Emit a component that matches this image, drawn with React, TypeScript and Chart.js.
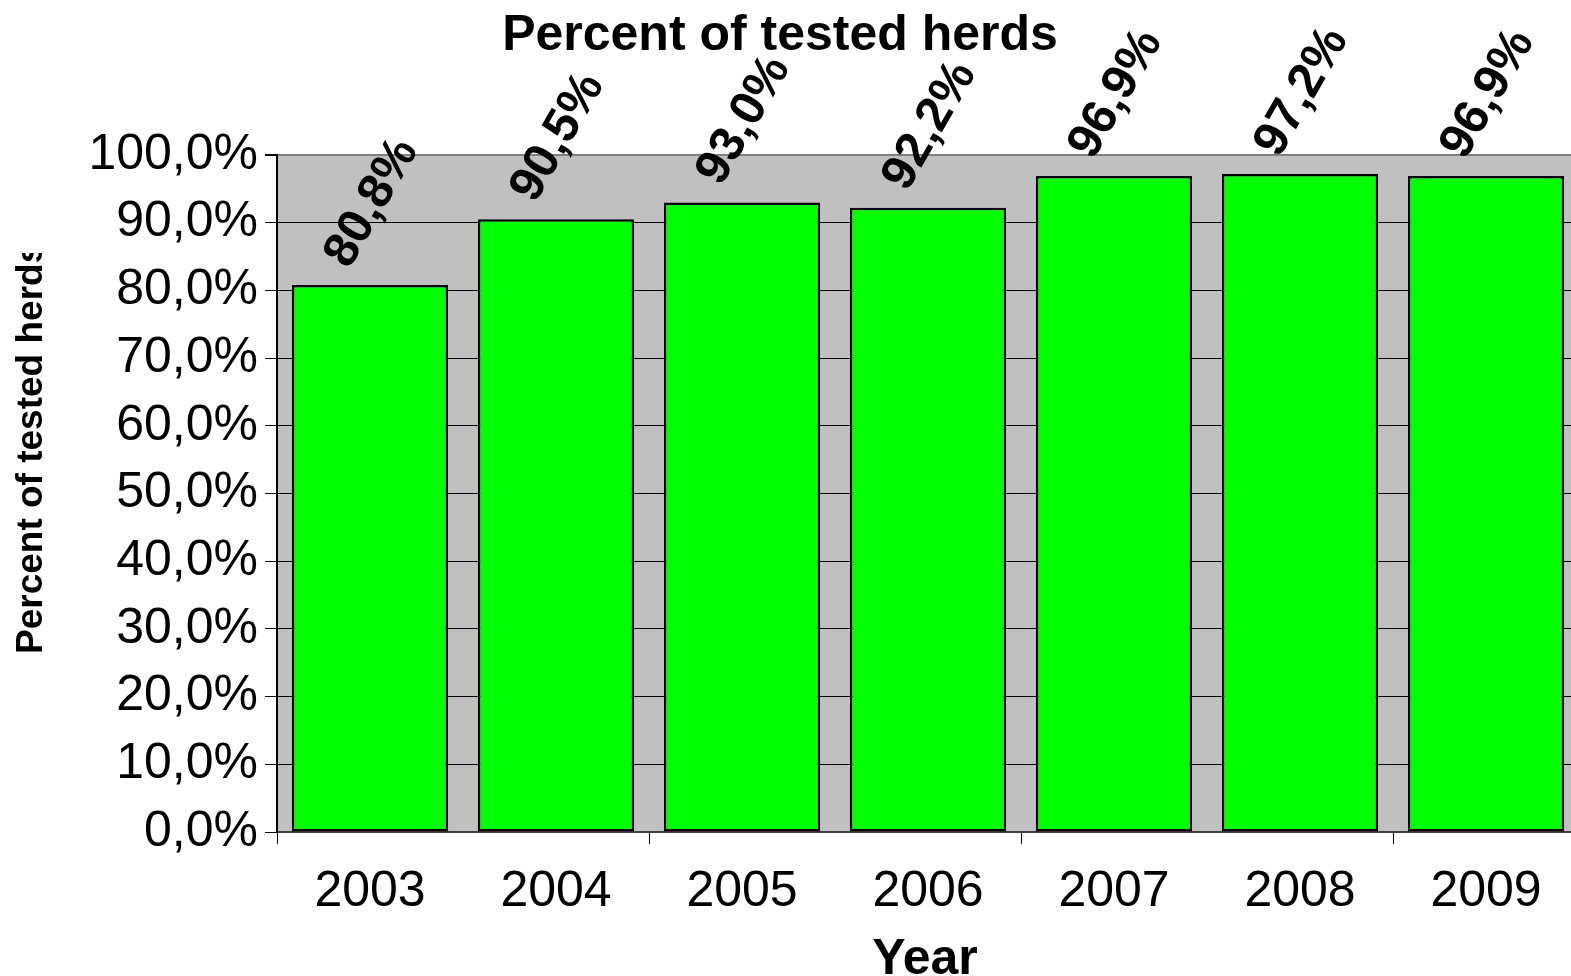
import React, { useEffect, useRef } from "react";
import { Chart, registerables } from "chart.js";

Chart.register(...registerables);

const categories: string[] = ["2003", "2004", "2005", "2006", "2007", "2008", "2009"];
const percentValues: number[] = [80.8, 90.5, 93.0, 92.2, 96.9, 97.2, 96.9];
const yMin = 0;
const yMax = 100;
const yStep = 10;
const chartTitle = "Percent of tested herds";
const xAxisTitle = "Year";
const yAxisTitle = "Percent of tested herds";

const FONT = '"Liberation Sans", Arial, Helvetica, sans-serif';
const CANVAS_W = 1600;
const CANVAS_H = 976;

const formatPct = (v: number) => v.toFixed(1).replace(".", ",") + "%";

const decorPlugin = {
  id: "decor",
  beforeDraw(chart: any) {
    const { ctx, chartArea } = chart;
    ctx.save();
    ctx.fillStyle = "#C0C0C0";
    ctx.fillRect(chartArea.left, chartArea.top, chartArea.right - chartArea.left, chartArea.bottom - chartArea.top);
    ctx.restore();
  },
  afterDraw(chart: any) {
    const { ctx, chartArea } = chart;
    const meta = chart.getDatasetMeta(0);
    // value labels
    meta.data.forEach((bar: any, i: number) => {
      const { x, y } = bar.getProps(["x", "y"], true);
      ctx.save();
      ctx.translate(x + 2, y - 82);
      ctx.rotate(-Math.PI / 3);
      ctx.font = `bold 49px ${FONT}`;
      ctx.fillStyle = "#000";
      ctx.textAlign = "center";
      ctx.textBaseline = "middle";
      ctx.fillText(formatPct(percentValues[i]), 0, 0);
      ctx.restore();
    });
    // chart title
    ctx.save();
    ctx.font = `bold 50px ${FONT}`;
    ctx.fillStyle = "#000";
    ctx.textAlign = "center";
    ctx.textBaseline = "alphabetic";
    ctx.fillText(chartTitle, 780, 50);
    ctx.restore();
    // x axis title
    ctx.save();
    ctx.font = `bold 50px ${FONT}`;
    ctx.fillStyle = "#000";
    ctx.textAlign = "center";
    ctx.textBaseline = "alphabetic";
    ctx.fillText(xAxisTitle, (chartArea.left + chartArea.right) / 2 - 3, 974);
    ctx.restore();
    // y axis title (clipped at top like the original)
    ctx.save();
    ctx.beginPath();
    ctx.rect(0, 253, 80, 500);
    ctx.clip();
    ctx.translate(42, 654);
    ctx.rotate(-Math.PI / 2);
    ctx.font = `bold 37px ${FONT}`;
    ctx.fillStyle = "#000";
    ctx.textAlign = "left";
    ctx.textBaseline = "alphabetic";
    ctx.fillText(yAxisTitle, 0, 0);
    ctx.restore();
  },
};

export default function App() {
  const canvasRef = useRef<HTMLCanvasElement | null>(null);

  useEffect(() => {
    if (!canvasRef.current) return;
    const chart = new Chart(canvasRef.current, {
      type: "bar",
      data: {
        labels: categories,
        datasets: [
          {
            data: percentValues,
            backgroundColor: "#00FF00",
            borderColor: "#000000",
            borderWidth: 2.5,
            borderSkipped: false,
            barPercentage: 0.84,
            categoryPercentage: 1,
          },
        ],
      },
      options: {
        animation: false,
        responsive: false,
        maintainAspectRatio: false,
        layout: { padding: { top: 155, right: CANVAS_W - 1579, left: 0, bottom: 0 } },
        plugins: {
          legend: { display: false },
          title: { display: false },
          tooltip: { enabled: false },
        },
        scales: {
          x: {
            type: "category",
            offset: true,
            afterFit: (s: any) => {
              s.height = CANVAS_H - 832;
            },
            grid: {
              offset: true,
              drawOnChartArea: false,
              drawTicks: true,
              tickLength: 12,
              tickColor: (c: any) => (typeof c.index === "number" && c.index % 2 === 0 ? "#000" : "rgba(0,0,0,0)"),
              color: "rgba(0,0,0,0)",
              lineWidth: 1,
            },
            border: { display: true, color: "#404040", width: 2 },
            ticks: {
              font: { family: FONT, size: 50 },
              color: "#000",
              padding: 18,
              maxRotation: 0,
              autoSkip: false,
            },
          },
          y: {
            min: yMin,
            max: yMax,
            afterFit: (s: any) => {
              s.width = 277;
            },
            grid: {
              color: (c: any) => (c.tick && c.tick.value === yMax ? "#808080" : "#000"),
              lineWidth: (c: any) => (c.tick && c.tick.value === yMax ? 2 : 1),
              tickLength: 12,
              tickColor: "#000",
              drawTicks: true,
            },
            border: { display: true, color: "#000", width: 2 },
            ticks: {
              stepSize: yStep,
              font: { family: FONT, size: 50 },
              color: "#000",
              padding: 7,
              callback: (v: any) => formatPct(Number(v)),
            },
          },
        },
      },
      plugins: [decorPlugin],
    } as any);
    return () => chart.destroy();
  }, []);

  return (
    <div
      style={{
        position: "fixed",
        left: 0,
        top: 0,
        width: 1571,
        height: 976,
        overflow: "hidden",
        background: "#fff",
      }}
    >
      <canvas
        ref={canvasRef}
        width={CANVAS_W}
        height={CANVAS_H}
        style={{ width: CANVAS_W, height: CANVAS_H, display: "block" }}
      />
    </div>
  );
}
